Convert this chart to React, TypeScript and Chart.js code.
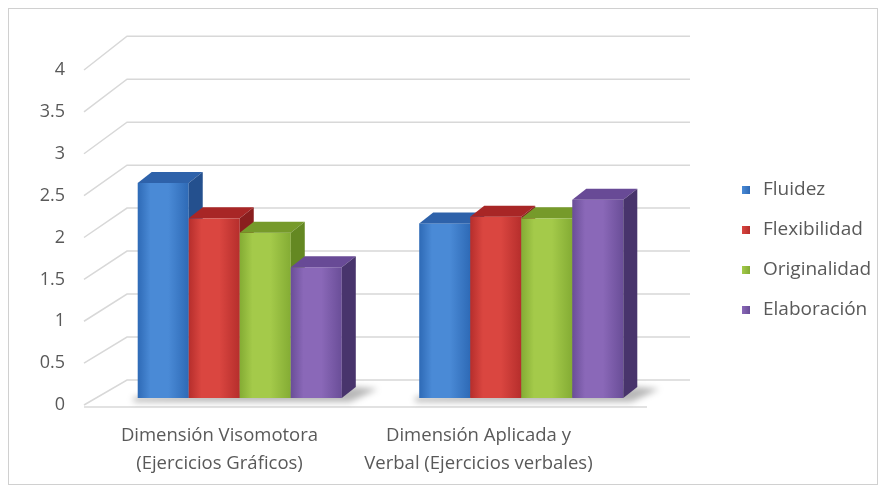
import React, { useEffect, useRef } from "react";
import { Chart, registerables } from "chart.js";
Chart.register(...registerables);

// ---- data ----
const categories = [
  ["Dimensión Visomotora", "(Ejercicios Gráficos)"],
  ["Dimensión Aplicada y", "Verbal (Ejercicios verbales)"],
];
const seriesNames = ["Fluidez", "Flexibilidad", "Originalidad", "Elaboración"];
const fluidez = [2.55, 2.07];
const flexibilidad = [2.13, 2.15];
const originalidad = [1.96, 2.13];
const elaboracion = [1.55, 2.35];
const yMin = 0;
const yMax = 4;
const yStep = 0.5;

// ---- styles ----
const frontLight = ["rgb(74,138,214)", "rgb(218,70,64)", "rgb(164,202,74)", "rgb(138,104,184)"];
const frontDark = ["rgb(46,106,182)", "rgb(182,46,44)", "rgb(132,172,52)", "rgb(106,78,152)"];
const topCol = ["rgb(46,98,170)", "rgb(168,38,38)", "rgb(118,154,42)", "rgb(104,74,150)"];
const sideCol = ["rgb(36,80,142)", "rgb(138,30,30)", "rgb(100,136,34)", "rgb(72,52,108)"];
const TEXT = "#595959";
const GRID = "rgb(216,216,216)";
const FONT = "'Open Sans', 'DejaVu Sans', sans-serif";

const W = 870;
const H = 477;

export default function App() {
  const ref = useRef<HTMLCanvasElement | null>(null);

  useEffect(() => {
    const seriesValues = [fluidez, flexibilidad, originalidad, elaboracion];

    // geometry of the fake 3D projection
    const WALL_DX = 43;
    const wallDy = (v: number) => -(25 + 2.2 * v);
    const FRONT_DX = 15;
    const frontDy = (v: number) => -(7 + 0.6 * v);
    const DEPTH_DX = 14;
    const DEPTH_DY = -11;
    // category labels sit on the (perspective-compressed) front floor edge
    const LABEL_SCALE = 0.92;
    const LABEL_SHIFT = 6;

    const plugin = {
      id: "threeD",
      beforeDraw(chart: any) {
        const s = chart.scales.x;
        const proto = Object.getPrototypeOf(s);
        s.getPixelForTick = (i: number) => {
          const p = proto.getPixelForTick.call(s, i);
          return s.left + (p - s.left) * LABEL_SCALE + LABEL_SHIFT;
        };
        s._labelItemsCache = null;
      },
      beforeDatasetsDraw(chart: any) {
        const { ctx, chartArea, scales } = chart;
        const ys = scales.y;
        ctx.save();
        ctx.strokeStyle = GRID;
        ctx.lineWidth = 1.5;
        ys.ticks.forEach((t: any) => {
          const v = t.value;
          const y = ys.getPixelForValue(v);
          const by = y + wallDy(v);
          ctx.beginPath();
          ctx.moveTo(chartArea.left, y);
          ctx.lineTo(chartArea.left + WALL_DX, by);
          ctx.lineTo(chartArea.right + WALL_DX, by);
          ctx.stroke();
        });
        const y0 = ys.getPixelForValue(0) + 2;
        ctx.beginPath();
        ctx.moveTo(chartArea.left, y0);
        ctx.lineTo(chartArea.right, y0);
        ctx.stroke();
        ctx.restore();
      },
      afterDatasetsDraw(chart: any) {
        const { ctx, scales } = chart;
        const ys = scales.y;
        const metas = chart.data.datasets.map((_: any, j: number) => chart.getDatasetMeta(j));
        const nCat = chart.data.labels.length;
        for (let i = 0; i < nCat; i++) {
          const first = metas[0].data[i];
          const last = metas[metas.length - 1].data[i];
          const gL = first.x - first.width / 2 + FRONT_DX;
          const gR = last.x + last.width / 2 + FRONT_DX;
          const B0 = ys.getPixelForValue(0) + frontDy(0);
          ctx.save();
          ctx.filter = "blur(3px)";
          ctx.fillStyle = "rgba(0,0,0,0.28)";
          ctx.beginPath();
          ctx.moveTo(gL - 4, B0 - 1);
          ctx.lineTo(gR + DEPTH_DX, B0 + DEPTH_DY);
          ctx.lineTo(gR + DEPTH_DX + 22, B0 + DEPTH_DY + 2);
          ctx.lineTo(gR + 8, B0 + 4);
          ctx.lineTo(gL - 4, B0 + 4);
          ctx.closePath();
          ctx.fill();
          ctx.restore();

          metas.forEach((meta: any, j: number) => {
            const el = meta.data[i];
            const v = chart.data.datasets[j].data[i];
            const L = el.x - el.width / 2 + FRONT_DX;
            const R = el.x + el.width / 2 + FRONT_DX;
            const T = el.y + frontDy(v);
            const B = el.base + frontDy(0);
            ctx.save();
            const g = ctx.createLinearGradient(L, 0, R, 0);
            g.addColorStop(0, frontDark[j]);
            g.addColorStop(0.25, frontLight[j]);
            g.addColorStop(0.6, frontLight[j]);
            g.addColorStop(1, frontDark[j]);
            ctx.fillStyle = g;
            ctx.fillRect(L, T, R - L, B - T);
            ctx.fillStyle = topCol[j];
            ctx.beginPath();
            ctx.moveTo(L, T);
            ctx.lineTo(L + DEPTH_DX, T + DEPTH_DY);
            ctx.lineTo(R + DEPTH_DX, T + DEPTH_DY);
            ctx.lineTo(R, T);
            ctx.closePath();
            ctx.fill();
            ctx.fillStyle = sideCol[j];
            ctx.beginPath();
            ctx.moveTo(R, T);
            ctx.lineTo(R + DEPTH_DX, T + DEPTH_DY);
            ctx.lineTo(R + DEPTH_DX, B + DEPTH_DY);
            ctx.lineTo(R, B);
            ctx.closePath();
            ctx.fill();
            ctx.restore();
          });
        }
      },
      afterDraw(chart: any) {
        const { ctx } = chart;
        delete chart.scales.x.getPixelForTick;
        ctx.save();
        ctx.font = `19px ${FONT}`;
        ctx.textBaseline = "middle";
        ctx.textAlign = "left";
        chart.data.datasets.forEach((ds: any, j: number) => {
          const cy = 182 + j * 40;
          const g = ctx.createLinearGradient(734, 0, 742, 0);
          g.addColorStop(0, frontLight[j]);
          g.addColorStop(1, frontDark[j]);
          ctx.fillStyle = g;
          ctx.fillRect(734, cy - 4, 8, 8);
          ctx.fillStyle = TEXT;
          ctx.fillText(ds.label, 755, cy);
        });
        ctx.strokeStyle = "rgb(208,208,208)";
        ctx.lineWidth = 1;
        ctx.strokeRect(0.5, 0.5, W - 1, H - 1);
        ctx.restore();
      },
    };

    const chart = new Chart(ref.current!, {
      type: "bar",
      data: {
        labels: categories,
        datasets: seriesNames.map((name, j) => ({
          label: name,
          data: seriesValues[j],
          backgroundColor: "rgba(0,0,0,0)",
          borderWidth: 0,
          categoryPercentage: 0.725,
          barPercentage: 1,
        })),
      },
      options: {
        responsive: false,
        animation: false,
        devicePixelRatio: 1,
        events: [],
        layout: { padding: { top: 62, right: 231, bottom: 0, left: 0 } },
        plugins: {
          legend: { display: false },
          tooltip: { enabled: false },
        },
        scales: {
          x: {
            grid: { display: false, drawTicks: false },
            border: { display: false },
            ticks: {
              color: TEXT,
              font: { family: FONT, size: 18.5, lineHeight: 1.5 },
              padding: 17,
              maxRotation: 0,
              autoSkip: false,
            },
            afterFit: (s: any) => {
              s.height = 80;
            },
          },
          y: {
            min: yMin,
            max: yMax,
            grid: { display: false, drawTicks: false },
            border: { display: false },
            ticks: {
              stepSize: yStep,
              color: TEXT,
              font: { family: FONT, size: 18 },
              padding: 19,
              callback: (v: any) => String(Number(v)),
            },
            afterFit: (s: any) => {
              s.width = 76;
            },
          },
        },
      },
      plugins: [plugin],
    });
    return () => chart.destroy();
  }, []);

  return (
    <div style={{ width: W, height: H }}>
      <canvas ref={ref} width={W} height={H} style={{ display: "block" }} />
    </div>
  );
}
